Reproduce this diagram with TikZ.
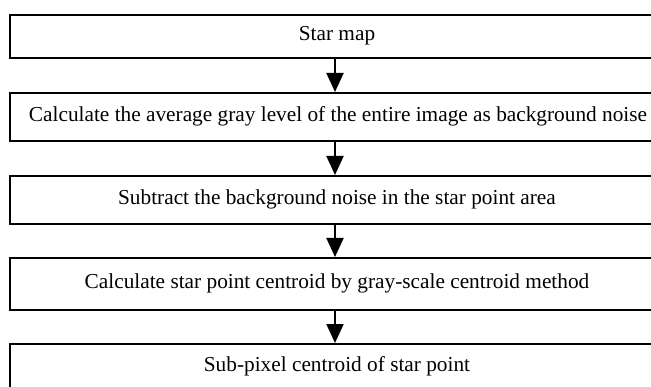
\documentclass[tikz,border=0pt]{standalone}
\usepackage{fontspec}
\setmainfont{Liberation Serif}
\usetikzlibrary{arrows.meta}
\begin{document}
\begin{tikzpicture}[x=1pt,y=1pt,
  flowbox/.style={draw=black,line width=1.8pt,inner sep=0pt,anchor=north west},
  flowtext/.style={font=\fontsize{21.3}{24}\selectfont},
  flowarrow/.style={line width=2pt,-{Triangle[width=17pt,length=19pt]}}]
\useasboundingbox (0,0) rectangle (651,386);
\clip (0,0) rectangle (651,386);
\node[flowbox,minimum width=656pt,minimum height=43pt] (b1) at (9,372) {};
\node[flowbox,minimum width=656pt,minimum height=48pt] (b2) at (9,294) {};
\node[flowbox,minimum width=656pt,minimum height=48pt] (b3) at (9,211) {};
\node[flowbox,minimum width=656pt,minimum height=52pt] (b4) at (9,129) {};
\node[flowbox,minimum width=656pt,minimum height=50pt] (b5) at (9,43) {};
\node[flowtext] (t1) at (337,350) {Star map};
\node[flowtext] (t2) at (338,270) {Calculate the average gray level of the entire image as background noise};
\node[flowtext] (t3) at (337,187) {Subtract the background noise in the star point area};
\node[flowtext] (t4) at (337,103) {Calculate star point centroid by gray-scale centroid method};
\node[flowtext] (t5) at (337,20) {Sub-pixel centroid of star point};
\draw[flowarrow] (b1.south -| 335,0) -- (b2.north -| 335,0);
\draw[flowarrow] (b2.south -| 335,0) -- (b3.north -| 335,0);
\draw[flowarrow] (b3.south -| 335,0) -- (b4.north -| 335,0);
\draw[flowarrow] (b4.south -| 335,0) -- (b5.north -| 335,0);
\end{tikzpicture}
\end{document}
